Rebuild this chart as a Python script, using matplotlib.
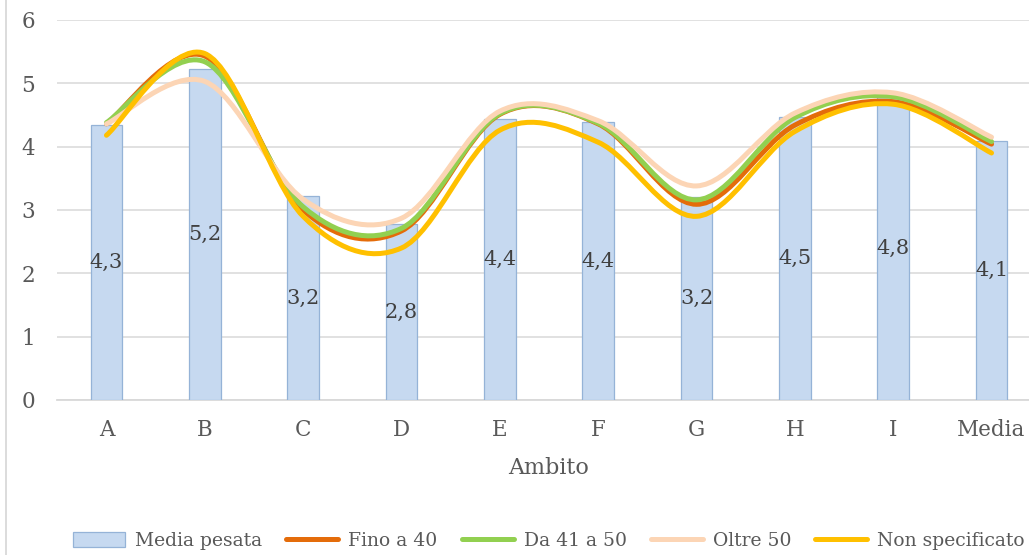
import matplotlib
matplotlib.use("Agg")
import matplotlib.pyplot as plt
from matplotlib.path import Path
from matplotlib.patches import PathPatch
from matplotlib.lines import Line2D
import numpy as np

categories = ["A", "B", "C", "D", "E", "F", "G", "H", "I", "Media"]
media_pesata = [4.34, 5.23, 3.22, 2.78, 4.44, 4.39, 3.21, 4.47, 4.79, 4.09]
fino_40 = [4.36, 5.43, 3.00, 2.67, 4.51, 4.36, 3.09, 4.34, 4.71, 4.04]
da_41_50 = [4.38, 5.34, 3.05, 2.71, 4.52, 4.37, 3.16, 4.46, 4.79, 4.08]
oltre_50 = [4.36, 5.03, 3.17, 2.87, 4.56, 4.41, 3.38, 4.53, 4.85, 4.15]
non_spec = [4.18, 5.47, 2.90, 2.40, 4.26, 4.07, 2.90, 4.24, 4.67, 3.90]

series = [
    ("Fino a 40", fino_40, "#E46C0A"),
    ("Da 41 a 50", da_41_50, "#92D050"),
    ("Oltre 50", oltre_50, "#FCD5B5"),
    ("Non specificato", non_spec, "#FFC000"),
]

FONT = "DejaVu Serif"
plt.rcParams["font.family"] = [FONT]
TXT = "#595959"

W, H = 1029, 555
fig = plt.figure(figsize=(W / 100, H / 100), dpi=100)
left_px, right_px, bottom_px, top_px = 57.3, 1040.7, 400, 20
ax = fig.add_axes([left_px / W, 1 - bottom_px / H,
                   (right_px - left_px) / W, (bottom_px - top_px) / H])

x = np.arange(len(categories))
bars = ax.bar(x, media_pesata, width=0.32, color="#C6D9F0",
              edgecolor="#95B3D7", linewidth=0.9, zorder=2)

for xi, v in zip(x, media_pesata):
    ax.text(xi, v / 2, f"{v:.1f}".replace(".", ","), ha="center", va="center",
            fontsize=15, color="#404040", zorder=3)


def smooth_path(xs, ys):
    pts = np.column_stack([xs, ys]).astype(float)
    n = len(pts)
    verts = [pts[0]]
    codes = [Path.MOVETO]
    for i in range(n - 1):
        p_prev = pts[max(i - 1, 0)]
        p0 = pts[i]
        p1 = pts[i + 1]
        p_next = pts[min(i + 2, n - 1)]
        c1 = p0 + (p1 - p_prev) / 6.0
        c2 = p1 - (p_next - p0) / 6.0
        verts += [c1, c2, p1]
        codes += [Path.CURVE4] * 3
    return Path(verts, codes)


handles = [bars]
labels = ["Media pesata"]
for k, (name, vals, col) in enumerate(series):
    patch = PathPatch(smooth_path(x, vals), fill=False, edgecolor=col,
                      linewidth=3.6, capstyle="round", joinstyle="round",
                      zorder=4 + k)
    ax.add_patch(patch)
    handles.append(Line2D([], [], color=col, linewidth=3.6,
                          solid_capstyle="round"))
    labels.append(name)

ax.set_xlim(-0.5, len(categories) - 0.5)
ax.set_ylim(0, 6)
ax.set_yticks(range(0, 7))
ax.set_xticks(x)
ax.set_xticklabels(categories)
ax.yaxis.grid(True, color="#D9D9D9", linewidth=1.1)
ax.set_axisbelow(True)
for s in ["top", "right", "left"]:
    ax.spines[s].set_visible(False)
ax.spines["bottom"].set_color("#D9D9D9")
ax.spines["bottom"].set_linewidth(1.3)
ax.spines["bottom"].set_zorder(1)
ax.tick_params(axis="both", length=0, labelsize=15.5, labelcolor=TXT)
ax.tick_params(axis="y", pad=16)
ax.tick_params(axis="x", pad=14)

ax.set_xlabel("Ambito", fontsize=16, color=TXT)
ax.xaxis.set_label_coords(0.5, -(468 - bottom_px) / (bottom_px - top_px))
ax.xaxis.label.set_va("center")

leg = fig.legend(handles, labels, loc="center", bbox_to_anchor=(549 / W, 1 - 541 / H),
                 ncol=5, frameon=False, fontsize=13.5, handlelength=2.78,
                 handleheight=0.8, handletextpad=0.53, columnspacing=1.28,
                 borderaxespad=0, borderpad=0)
for t in leg.get_texts():
    t.set_color(TXT)

fig.add_artist(Line2D([6 / W, 6 / W], [0, 1], color="#D9D9D9", linewidth=1.3,
                      transform=fig.transFigure))

fig.savefig("out.png", dpi=100)
